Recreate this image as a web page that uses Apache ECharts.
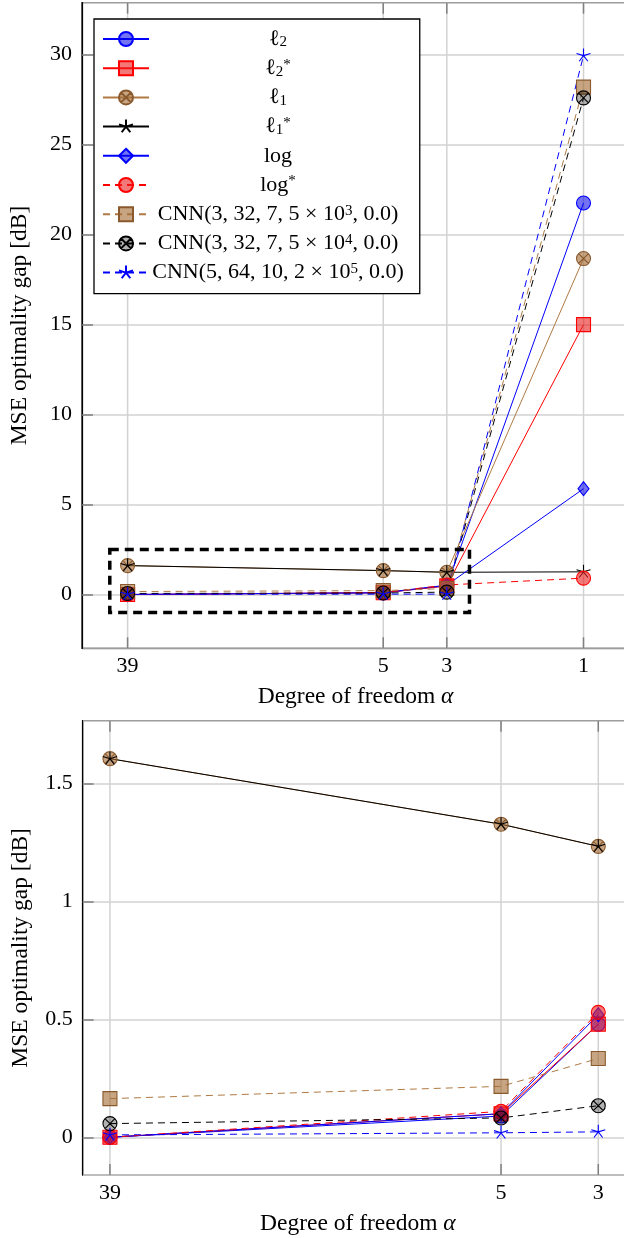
<!DOCTYPE html>
<html><head><meta charset="utf-8">
<script src="https://cdn.jsdelivr.net/npm/echarts@6/dist/echarts.min.js"></script>
<style>html,body{margin:0;padding:0;background:#fff;overflow:hidden}#c{width:650px;height:1238px}</style>
</head><body><div id="c"></div>
<script>
// ---- data ----
const alpha = [39, 5, 3, 1];                 // degree of freedom (x, log scale, reversed)
const xTickLabels = ['39', '5', '3', '1'];
const l2   = [0.00, 0.09, 0.48, 21.76];
const l2s  = [0.00, 0.10, 0.48, 15.00];
const l1   = [1.606, 1.328, 1.234, 18.67];
const l1s  = [1.606, 1.328, 1.234, 1.26];
const logv = [0.00, 0.10, 0.52, 5.88];
const logs = [0.00, 0.11, 0.53, 0.91];
const cnn1 = [0.164, 0.216, 0.334, 28.2];
const cnn2 = [0.058, 0.082, 0.134, 27.6];
const cnn3 = [0.010, 0.019, 0.023, 29.95];
const topXRange = [56.26, 0.6933];   // alpha at left / right edge
const topYRange = [-2.99, 32.89];
const botXRange = [45, 2.5];
const botYRange = [-0.16, 1.767];
const zoomBox = [[45, 2.5], [2.5, -1]];   // [alpha, y] corners of the zoom rectangle

// ---- styles ----
const FONT = '"Liberation Serif", "DejaVu Serif", serif';
const FS = 22;
const NFS = 23.5;
const OTIMES = 'path://M0,-10A10,10,0,1,1,0,10A10,10,0,1,1,0,-10ZM-7.07,-7.07L7.07,7.07M-7.07,7.07L7.07,-7.07';
const STAR = 'path://M0,10M0,0L0,-10M0,0L-9.51,-3.09M0,0L-5.88,8.09M0,0L5.88,8.09M0,0L9.51,-3.09';
const DASH = [7, 5];
const BLUE = '#0000ff', RED = '#ff0000', BROWN = '#b07a45';
const BFILL = 'rgba(0,0,235,0.55)', RFILL = 'rgba(235,30,30,0.6)', NFILL = 'rgba(165,110,55,0.62)';

const defs = [
  {name: 'l2',   vals: l2,   symbol: 'circle', size: 14, fill: BFILL, stroke: BLUE, line: BLUE, dash: 'solid'},
  {name: 'l2s',  vals: l2s,  symbol: 'rect',   size: 14, fill: RFILL, stroke: RED, line: RED, dash: 'solid'},
  {name: 'l1',   vals: l1,   symbol: OTIMES,   size: 14, fill: NFILL, stroke: '#8a5a2e', line: BROWN, dash: 'solid'},
  {name: 'l1s',  vals: l1s,  symbol: STAR,     size: 14, fill: 'rgba(0,0,0,0)', stroke: '#000', line: '#000', dash: 'solid'},
  {name: 'log',  vals: logv, symbol: 'diamond', size: [11, 14], fill: BFILL, stroke: BLUE, line: BLUE, dash: 'solid'},
  {name: 'logs', vals: logs, symbol: 'circle', size: 14, fill: RFILL, stroke: RED, line: RED, dash: DASH},
  {name: 'cnn1', vals: cnn1, symbol: 'rect',   size: 14, fill: NFILL, stroke: '#8a5a2e', line: BROWN, dash: DASH},
  {name: 'cnn2', vals: cnn2, symbol: OTIMES,   size: 14, fill: 'rgba(0,0,0,0.3)', stroke: '#000', line: '#000', dash: DASH},
  {name: 'cnn3', vals: cnn3, symbol: STAR,     size: 14, fill: 'rgba(0,0,0,0)', stroke: BLUE, line: BLUE, dash: DASH}
];

const legendText = {
  l2:   '{m|ℓ}{sub|2}',
  l2s:  '{m|ℓ}{sub|2}{ast|*}',
  l1:   '{m|ℓ}{sub|1}',
  l1s:  '{m|ℓ}{sub|1}{ast|*}',
  log:  '{m|log}',
  logs: '{m|log}{ast|*}',
  cnn1: '{m|CNN(3, 32, 7, 5 × 10}{sup|3}{m|, 0.0)}',
  cnn2: '{m|CNN(3, 32, 7, 5 × 10}{sup|4}{m|, 0.0)}',
  cnn3: '{m|CNN(5, 64, 10, 2 × 10}{sup|5}{m|, 0.0)}'
};

function lineSeries(d, g, n) {
  return {
    type: 'line', name: d.name, xAxisIndex: g, yAxisIndex: g, z: 3,
    data: alpha.slice(0, n).map((a, i) => [a, d.vals[i]]),
    symbol: d.symbol, symbolSize: d.size, symbolKeepAspect: false,
    showSymbol: true, showAllSymbol: true, silent: true,
    itemStyle: {color: d.fill, borderColor: d.stroke, borderWidth: 1.1},
    lineStyle: {color: d.line, width: 1, type: d.dash},
    emphasis: {disabled: true}
  };
}

function tickSeries(g, n) {
  return {
    type: 'custom', xAxisIndex: g, yAxisIndex: g, z: 1, silent: true,
    data: alpha.slice(0, n).map(a => [a, 0]),
    renderItem: function (params, api) {
      const cs = params.coordSys;
      const x = api.coord([api.value(0), api.value(1)])[0];
      const y0 = cs.y, y1 = cs.y + cs.height;
      return {type: 'group', children: [
        {type: 'line', shape: {x1: x, y1: y0, x2: x, y2: y1}, style: {stroke: '#d2d2d2', lineWidth: 1.5}},
        {type: 'line', shape: {x1: x, y1: y1, x2: x, y2: y1 - 11}, style: {stroke: '#808080', lineWidth: 1.5}},
        {type: 'line', shape: {x1: x, y1: y0, x2: x, y2: y0 + 11}, style: {stroke: '#808080', lineWidth: 1.5}},
        {type: 'text', style: {text: xTickLabels[params.dataIndex], x: x, y: y1 + 7,
          align: 'center', verticalAlign: 'top', font: FS + 'px ' + FONT, fill: '#000'}}
      ]};
    }
  };
}

function yAxisCfg(g, range, split) {
  return {
    type: 'value', gridIndex: g, min: range[0], max: range[1], splitNumber: split,
    name: 'MSE optimality gap [dB]', nameLocation: 'middle', nameGap: 50,
    nameTextStyle: {fontFamily: FONT, fontSize: NFS, color: '#000'},
    axisLine: {show: true, lineStyle: {color: '#000', width: 1.2}},
    axisTick: {show: true, inside: true, length: 11, lineStyle: {color: '#808080', width: 1.5}},
    axisLabel: {show: true, margin: 10, fontFamily: FONT, fontSize: FS, color: '#000',
      showMinLabel: false, showMaxLabel: false, formatter: v => String(Math.round(v * 100) / 100)},
    splitLine: {show: true, lineStyle: {color: '#d2d2d2', width: 1.5}}
  };
}

function xAxisCfg(g, range) {
  return {
    type: 'log', logBase: Math.E, gridIndex: g, min: range[0], max: range[1], inverse: true,
    name: 'Degree of freedom {i|α}', nameLocation: 'middle', nameGap: 37,
    nameTextStyle: {fontFamily: FONT, fontSize: NFS, color: '#000',
      rich: {i: {fontFamily: FONT, fontSize: NFS, fontStyle: 'italic', color: '#000'}}},
    axisLine: {show: false}, axisTick: {show: false}, axisLabel: {show: false}, splitLine: {show: false}
  };
}

const series = [];
series.push(tickSeries(0, 4));
series.push(tickSeries(1, 3));
defs.forEach(d => series.push(lineSeries(d, 0, 4)));
defs.forEach(d => series.push(lineSeries(d, 1, 3)));
// zoom rectangle on the top panel
series.push({
  type: 'line', xAxisIndex: 0, yAxisIndex: 0, data: [], silent: true, z: 5,
  markArea: {silent: true, z: 5,
    itemStyle: {color: 'rgba(0,0,0,0)', borderColor: '#000', borderWidth: 3.5, borderType: [9, 6]},
    data: [[{coord: zoomBox[0]}, {coord: zoomBox[1]}]]}
});

const option = {
  animation: false,
  backgroundColor: '#fff',
  grid: [
    {left: 79.7, top: 2.7, width: 549.4, height: 645.6, show: true, borderColor: '#000', borderWidth: 1.2, backgroundColor: 'rgba(0,0,0,0)'},
    {left: 82.7, top: 720.7, width: 550.3, height: 454.3, show: true, borderColor: '#000', borderWidth: 1.2, backgroundColor: 'rgba(0,0,0,0)'}
  ],
  xAxis: [xAxisCfg(0, [topXRange[1], topXRange[0]]), xAxisCfg(1, [botXRange[1], botXRange[0]])],
  yAxis: [yAxisCfg(0, topYRange, 7), yAxisCfg(1, botYRange, 4)],
  legend: {
    show: true, orient: 'vertical', left: 94, top: 19,
    padding: [9, 16, 10, 8], itemWidth: 46, itemHeight: 17.5, itemGap: 7.2,
    backgroundColor: '#fff', borderColor: '#000', borderWidth: 1.3, borderRadius: 0,
    selectedMode: false, z: 10,
    data: defs.map(d => d.name),
    formatter: name => legendText[name],
    textStyle: {width: 248, fontFamily: FONT, fontSize: FS, color: '#000',
      rich: {
        m:   {fontFamily: FONT, fontSize: FS, lineHeight: 22, align: 'center', color: '#000'},
        sub: {fontFamily: FONT, fontSize: 15, lineHeight: 13, verticalAlign: 'bottom', align: 'center', color: '#000'},
        sup: {fontFamily: FONT, fontSize: 15, lineHeight: 10, verticalAlign: 'top', align: 'center', color: '#000'},
        ast: {fontFamily: FONT, fontSize: 15, lineHeight: 16, verticalAlign: 'top', align: 'center', color: '#000'}
      }}
  },
  series: series
};

const chart = echarts.init(document.getElementById('c'), null, {renderer: 'canvas'});
chart.setOption(option);
</script>
</body></html>
